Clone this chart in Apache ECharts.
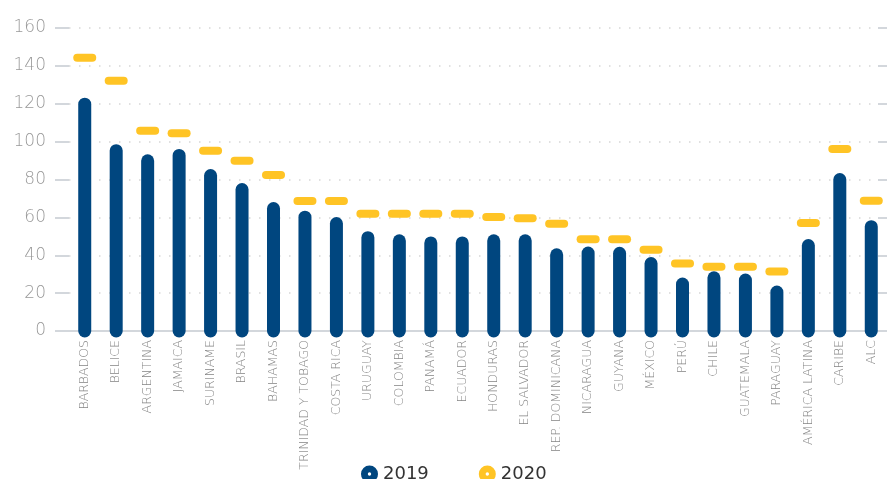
<!DOCTYPE html>
<html>
<head>
<meta charset="utf-8">
<script src="https://cdn.jsdelivr.net/npm/echarts@6/dist/echarts.min.js"></script>
<style>
  html, body { margin: 0; padding: 0; background: #fff; }
  #chart { width: 887px; height: 479px; }
</style>
</head>
<body>
<div id="chart"></div>
<script>
const countries = ['BARBADOS', 'BELICE', 'ARGENTINA', 'JAMAICA', 'SURINAME', 'BRASIL', 'BAHAMAS',
  'TRINIDAD Y TOBAGO', 'COSTA RICA', 'URUGUAY', 'COLOMBIA', 'PANAMÁ', 'ECUADOR', 'HONDURAS',
  'EL SALVADOR', 'REP. DOMINICANA', 'NICARAGUA', 'GUYANA', 'MÉXICO', 'PERÚ', 'CHILE',
  'GUATEMALA', 'PARAGUAY', 'AMÉRICA LATINA', 'CARIBE', 'ALC'];
const values2019 = [119.8, 95.2, 89.9, 92.7, 82.1, 74.7, 64.7, 60.1, 56.7, 49.3, 47.6, 46.5, 46.5, 47.6,
  47.6, 40.2, 41.2, 41.0, 35.6, 24.8, 28.1, 26.9, 20.6, 45.1, 80.0, 55.1];
const values2020 = [144.3, 132.1, 105.8, 104.4, 95.2, 89.9, 82.4, 68.6, 68.6, 61.9, 61.9, 61.9, 61.9, 60.2,
  59.6, 56.6, 48.5, 48.5, 42.9, 35.7, 33.9, 33.9, 31.4, 57.0, 96.1, 68.8];
const yTicks = [0, 20, 40, 60, 80, 100, 120, 140, 160];

const BLUE = '#00467f';
const YELLOW = '#ffc425';
const FONT = '"DejaVu Sans", sans-serif';
const legendIcon = 'path://M10,0 A10,10 0 1,1 9.99,0 Z M10,8 A2,2 0 1,0 10.01,8 Z';

const chart = echarts.init(document.getElementById('chart'));

// 2019: thick line with round caps from 0 up to the value
const barItem = (params, api) => {
  const base = api.coord([api.value(0), 0]);
  const top = api.coord([api.value(0), api.value(1)]);
  return {
    type: 'line',
    shape: {x1: base[0], y1: base[1], x2: top[0], y2: top[1]},
    style: {stroke: BLUE, lineWidth: 13, lineCap: 'round'},
  };
};
// 2020: short rounded dash centred on the value
const dashItem = (params, api) => {
  const p = api.coord([api.value(0), api.value(1)]);
  return {
    type: 'line',
    shape: {x1: p[0] - 7.5, y1: p[1], x2: p[0] + 7.5, y2: p[1]},
    style: {stroke: YELLOW, lineWidth: 8, lineCap: 'round'},
  };
};

const option = {
  animation: false,
  grid: {left: 69, right: 0, top: 28, bottom: 148},
  legend: {
    data: [{name: '2019', icon: legendIcon}, {name: '2020', icon: legendIcon}],
    left: 356,
    top: 460,
    itemWidth: 17,
    itemHeight: 17,
    itemGap: 50,
    textStyle: {fontFamily: FONT, fontSize: 18, color: '#333'},
  },
  xAxis: {
    type: 'category',
    data: countries,
    axisLine: {show: true, lineStyle: {color: '#d3d7dc', width: 2}},
    axisTick: {show: false},
    axisLabel: {
      rotate: 90,
      interval: 0,
      margin: 9,
      fontFamily: FONT,
      fontWeight: 200,
      fontSize: 12.5,
      color: '#858585',
    },
  },
  yAxis: [
    {
      type: 'value',
      min: 0,
      max: 160,
      interval: 20,
      axisLine: {show: false},
      axisTick: {show: true, length: 14, lineStyle: {color: '#d3d7dc', width: 2}},
      axisLabel: {margin: 23, fontFamily: FONT, fontWeight: 200, fontSize: 17, color: '#999'},
      splitLine: {show: true, lineStyle: {color: '#d6d6d6', width: 1.5, type: [1.5, 8.5]}},
    },
    {
      type: 'value',
      position: 'right',
      min: 0,
      max: 160,
      interval: 20,
      axisLine: {show: false},
      axisTick: {show: true, inside: true, length: 9, lineStyle: {color: '#d3d7dc', width: 2}},
      axisLabel: {show: false},
      splitLine: {show: false},
    },
  ],
  series: [
    {
      name: '2019',
      type: 'custom',
      itemStyle: {color: BLUE},
      renderItem: barItem,
      encode: {x: 0, y: 1},
      data: values2019.map((v, i) => [i, v]),
    },
    {
      name: '2020',
      type: 'custom',
      itemStyle: {color: YELLOW},
      renderItem: dashItem,
      encode: {x: 0, y: 1},
      data: values2020.map((v, i) => [i, v]),
    },
  ],
};
chart.setOption(option);
</script>
</body>
</html>
